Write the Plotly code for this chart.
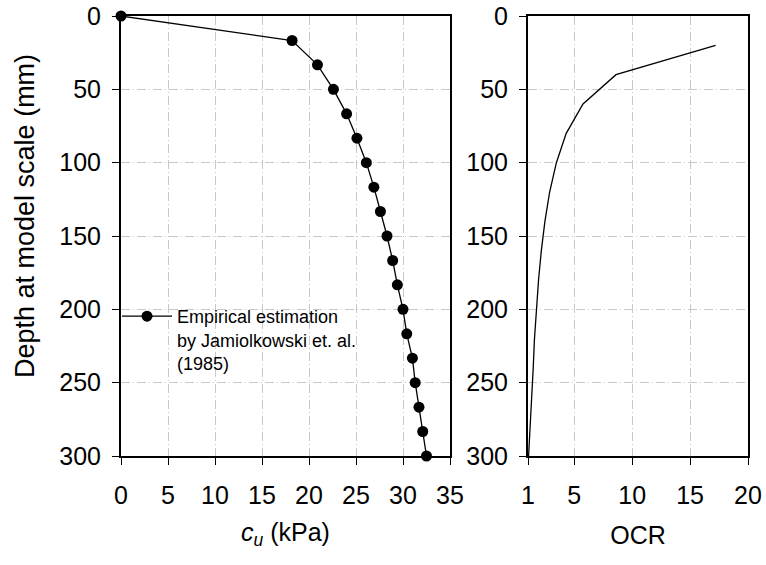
import plotly.graph_objects as go

# ---- data ----
cu_depth = [0, 16.7, 33.3, 50, 66.7, 83.3, 100, 116.7, 133.3, 150, 166.7, 183.3,
            200, 216.7, 233.3, 250, 266.7, 283.3, 300]
cu_kpa = [0, 18.2, 20.9, 22.6, 24.0, 25.1, 26.1, 26.9, 27.6, 28.3, 28.9, 29.4,
          30.0, 30.4, 31.0, 31.3, 31.7, 32.1, 32.5]

ocr_depth = [20, 40, 60, 80, 100, 120, 140, 160, 180, 200, 220, 240, 260, 280, 300]
ocr_vals = [17.2, 8.6, 5.75, 4.3, 3.45, 2.87, 2.46, 2.15, 1.91, 1.72, 1.56, 1.45, 1.33, 1.2, 1.05]

cu_ticks = [0, 5, 10, 15, 20, 25, 30, 35]
ocr_ticks = [1, 5, 10, 15, 20]
depth_ticks = [0, 50, 100, 150, 200, 250, 300]

legend_label = "Empirical estimation<br>by Jamiolkowski et. al.<br>(1985)"

W, H = 766, 565
FONT = "Liberation Sans, Arial, sans-serif"
GRID = "#c8c8c8"
DASH = "9px,3px,1px,3px"
TICK_SIZE = 25
TITLE_SIZE = 25

fig = go.Figure()
fig.add_trace(go.Scatter(
    x=cu_kpa, y=cu_depth, mode="lines+markers", name=legend_label,
    line=dict(color="black", width=1.3),
    marker=dict(color="black", size=11, symbol="circle"),
    cliponaxis=False, xaxis="x", yaxis="y"))
fig.add_trace(go.Scatter(
    x=ocr_vals, y=ocr_depth, mode="lines", showlegend=False,
    line=dict(color="black", width=1.3), xaxis="x2", yaxis="y2"))

def px_x(p):
    return p / W

def px_y(p):
    return 1 - p / H

common_axis = dict(showline=True, linecolor="black", linewidth=2, mirror=True,
                   ticks="outside", ticklen=7, tickwidth=1, tickcolor="black",
                   showgrid=True, gridcolor=GRID, griddash=DASH, gridwidth=1,
                   zeroline=False, tickfont=dict(family=FONT, size=TICK_SIZE, color="black"),
                   automargin=False)

ydom = [px_y(456), px_y(16)]
fig.update_layout(
    width=W, height=H,
    margin=dict(l=0, r=0, t=0, b=0),
    paper_bgcolor="white", plot_bgcolor="white",
    font=dict(family=FONT, color="black"),
    xaxis=dict(domain=[px_x(121), px_x(450)], range=[0, 35], tickvals=cu_ticks,
               anchor="y", ticklabelstandoff=9,
               title=dict(text="<i>c</i><sub><i>u</i></sub> (kPa)",
                          font=dict(family=FONT, size=TITLE_SIZE), standoff=15),
               **common_axis),
    yaxis=dict(domain=ydom, range=[300, 0], tickvals=depth_ticks, anchor="x",
               ticklabelstandoff=6, **common_axis),
    xaxis2=dict(domain=[px_x(528), px_x(748)], range=[1, 20], tickvals=ocr_ticks,
                anchor="y2", ticklabelstandoff=9,
                title=dict(text="OCR", font=dict(family=FONT, size=TITLE_SIZE), standoff=18),
                **common_axis),
    yaxis2=dict(domain=ydom, range=[300, 0], tickvals=depth_ticks, anchor="x2",
                ticklabelstandoff=6, **common_axis),
    showlegend=True,
    legend=dict(x=px_x(117), y=px_y(298), xanchor="left", yanchor="top",
                bgcolor="rgba(0,0,0,0)", valign="top", itemwidth=50,
                font=dict(family=FONT, size=18, color="black"),
                tracegroupgap=0),
    annotations=[dict(text="Depth at model scale (mm)", x=px_x(25), y=px_y(216),
                      xref="paper", yref="paper", showarrow=False, textangle=-90,
                      xanchor="center", yanchor="middle",
                      font=dict(family=FONT, size=27, color="black"))],
)

fig.write_html("out.html")
